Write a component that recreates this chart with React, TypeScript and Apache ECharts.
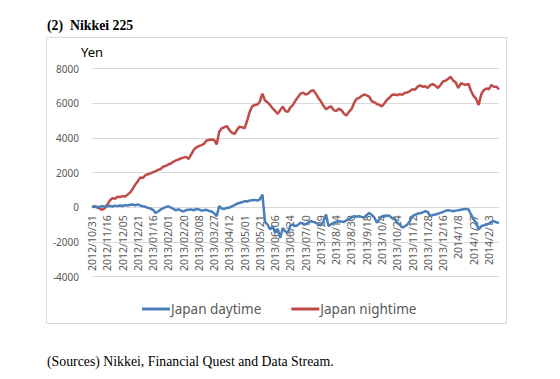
import React, { useEffect, useRef } from "react";
import * as echarts from "echarts";

const tickLabels = [
  "2012/10/31", "2012/11/16", "2012/12/05", "2012/12/21", "2013/01/16", "2013/02/01",
  "2013/02/20", "2013/03/08", "2013/03/27", "2013/04/12", "2013/05/01", "2013/05/21",
  "2013/06/06", "2013/06/24", "2013/07/10", "2013/7/29", "2013/8/14", "2013/8/30",
  "2013/9/18", "2013/10/4", "2013/10/24", "2013/11/12", "2013/11/28", "2013/12/16",
  "2014/1/8", "2014/1/27", "2014/2/13",
];

// one value every two trading days (labels every 6 points = 12 trading days)
const daytime = [
  0, 40, -30, 20, 60, 30, 50, 80, 40, 90,
  60, 100, 70, 120, 90, 140, 150, 110, 160, 90,
  50, 20, -40, -80, -150, -330, -250, -130, -60, 0,
  50, -20, -100, -180, -120, -200, -250, -170, -150, -130,
  -180, -100, -120, -200, -180, -150, -220, -250, -350, -520,
  70, -80, -100, -40, -30, 50, 120, 200, 250, 280,
  350, 330, 380, 400, 420, 380, 450, 730, -850, -1000,
  -1290, -1100, -1480, -1250, -1770, -1200, -1400, -1480, -1050, -1000,
  -1100, -1020, -900, -950, -1000, -880, -810, -850, -900, -1000,
  -1050, -800, -420, -1100, -980, -900, -850, -810, -830, -860,
  -760, -700, -600, -520, -540, -520, -560, -600, -450, -330,
  -450, -600, -900, -700, -520, -500, -480, -500, -650, -700,
  -900, -1000, -1190, -1100, -1000, -800, -520, -450, -370, -350,
  -300, -230, -280, -520, -450, -420, -380, -330, -280, -200,
  -180, -200, -230, -200, -180, -150, -120, -100, -130, -420,
  -700, -900, -1290, -1100, -1050, -1000, -950, -850, -810, -880,
  -900,
];

const nighttime = [
  0, 60, 20, -80, -150, -60, 150, 380, 520, 480,
  600, 580, 640, 610, 720, 850, 1050, 1300, 1500, 1720,
  1680, 1850, 1900, 1950, 2020, 2080, 2150, 2200, 2330, 2380,
  2460, 2520, 2620, 2700, 2750, 2820, 2860, 2900, 2780, 3050,
  3300, 3450, 3520, 3580, 3650, 3850, 3880, 3900, 3880, 3620,
  4350, 4550, 4600, 4680, 4450, 4300, 4220, 4450, 4650, 4600,
  4550, 5000, 5500, 5820, 5900, 5920, 6100, 6550, 6150, 6050,
  5900, 5700, 5550, 5380, 5600, 5800, 5550, 5500, 5750, 5900,
  6150, 6350, 6550, 6600, 6500, 6550, 6700, 6750, 6550, 6300,
  6100, 5850, 5650, 5750, 5820, 5600, 5550, 5680, 5600, 5400,
  5280, 5500, 5650, 6000, 6250, 6300, 6420, 6500, 6450, 6380,
  6100, 6050, 5950, 5900, 5820, 6000, 6200, 6330, 6480, 6500,
  6460, 6520, 6480, 6600, 6620, 6700, 6800, 6780, 6950, 7030,
  6950, 6980, 6880, 7050, 7100, 7000, 6880, 7050, 7250, 7300,
  7400, 7520, 7300, 7200, 6880, 7150, 7100, 7050, 7120, 6700,
  6420, 6250, 5900, 6500, 6750, 6850, 6800, 7050, 6950, 6950,
  6800,
];

const yMin = -4000;
const yMax = 8000;
const yStep = 2000;

const POINTS_PER_LABEL = 6;
const categories = daytime.map((_, j) =>
  j % POINTS_PER_LABEL === 0 && tickLabels[j / POINTS_PER_LABEL]
    ? tickLabels[j / POINTS_PER_LABEL]
    : `${tickLabels[Math.min(Math.floor(j / POINTS_PER_LABEL), tickLabels.length - 1)]}_${j}`
);

const seriesNames = ["Japan daytime", "Japan nightime"];

export default function App() {
  const ref = useRef<HTMLDivElement>(null);
  useEffect(() => {
    if (!ref.current) return;
    const chart = echarts.init(ref.current, undefined, { renderer: "svg" });
    const sans = "Noto Sans";
    const gridTop = 68.5;
    const gridHeight = 208;
    const zeroOffset = -gridHeight * (0 - yMin) / (yMax - yMin);
    chart.setOption({
      animation: false,
      backgroundColor: "#ffffff",
      grid: { left: 92, right: 61, top: gridTop, height: gridHeight, containLabel: false },
      xAxis: {
        type: "category",
        data: categories,
        boundaryGap: false,
        offset: zeroOffset,
        axisLine: { onZero: false, lineStyle: { color: "#d9d9d9", width: 1 } },
        axisTick: { show: false },
        axisLabel: {
          interval: POINTS_PER_LABEL - 1,
          rotate: 90,
          showMinLabel: true,
          color: "#595959",
          fontFamily: sans,
          fontSize: 10.5,
          margin: 8,
        },
        splitLine: { show: false },
      },
      yAxis: {
        type: "value",
        min: yMin,
        max: yMax,
        interval: yStep,
        axisLine: { show: false },
        axisTick: { show: false },
        axisLabel: {
          color: "#595959",
          fontFamily: sans,
          fontSize: 10,
          margin: 13,
          formatter: (v: number) => String(v),
        },
        splitLine: { lineStyle: { color: "#d9d9d9", width: 1 } },
      },
      legend: {
        data: seriesNames,
        left: 137,
        top: 297,
        icon: "rect",
        itemWidth: 28,
        itemHeight: 3,
        itemGap: 30,
        textStyle: { color: "#595959", fontFamily: sans, fontSize: 13.5, padding: [0, 0, 0, -4] },
      },
      series: [
        {
          name: seriesNames[0],
          type: "line",
          data: daytime,
          showSymbol: false,
          symbol: "none",
          lineStyle: { color: "#4a7ebb", width: 2.5 },
          itemStyle: { color: "#4a7ebb" },
          z: 3,
        },
        {
          name: seriesNames[1],
          type: "line",
          data: nighttime,
          showSymbol: false,
          symbol: "none",
          lineStyle: { color: "#be4b48", width: 2.5 },
          itemStyle: { color: "#be4b48" },
          z: 2,
        },
      ],
      graphic: [
        {
          type: "rect",
          shape: { x: 46.5, y: 37.5, width: 460, height: 286 },
          style: { fill: "none", stroke: "#d9d9d9", lineWidth: 1 },
          z: -1,
          silent: true,
        },
        {
          type: "text",
          left: 47,
          top: 18,
          style: {
            text: "(2)  Nikkei 225",
            font: "bold 13.8px 'Liberation Serif', serif",
            fill: "#000000",
          },
        },
        {
          type: "text",
          left: 81,
          top: 45,
          style: { text: "Yen", font: "13px 'Noto Sans'", fill: "#000000" },
        },
        {
          type: "text",
          left: 47,
          top: 354,
          style: {
            text: "(Sources) Nikkei, Financial Quest and Data Stream.",
            font: "13.8px 'Liberation Serif', serif",
            fill: "#000000",
          },
        },
      ],
    });
    return () => chart.dispose();
  }, []);
  return (
    <div
      ref={ref}
      style={{ position: "fixed", left: 0, top: 0, width: 560, height: 379, background: "#fff" }}
    />
  );
}
